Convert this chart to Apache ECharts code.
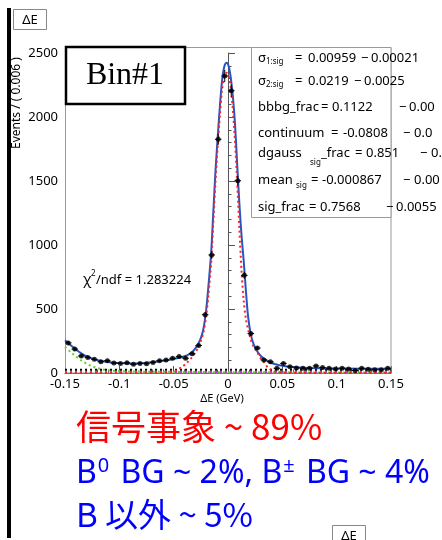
<!DOCTYPE html>
<html><head><meta charset="utf-8">
<script src="https://cdn.jsdelivr.net/npm/echarts@6/dist/echarts.min.js"></script>
<style>html,body{margin:0;padding:0;background:#fff}#c{width:442px;height:540px}</style>
</head><body><div id="c"></div><script>
// ---- data ----
const binCenters = [-0.147,-0.141,-0.135,-0.129,-0.123,-0.117,-0.111,-0.105,-0.099,-0.093,
  -0.087,-0.081,-0.075,-0.069,-0.063,-0.057,-0.051,-0.045,-0.039,-0.033,
  -0.027,-0.021,-0.015,-0.009,-0.003,0.003,0.009,0.015,0.021,0.027,
  0.033,0.039,0.045,0.051,0.057,0.063,0.069,0.075,0.081,0.087,
  0.093,0.099,0.105,0.111,0.117,0.123,0.129,0.135,0.141,0.147];
const counts = [235,187,133,122,107,88,96,78,75,80,
  68,75,72,83,96,101,115,128,115,150,
  215,455,922,1826,2320,2205,1502,763,308,195,
  102,88,37,75,49,40,37,37,55,43,
  37,31,37,31,20,37,30,25,25,37];
const fitTotal = [[-0.150,255],[-0.145,218],[-0.140,183],[-0.135,153],[-0.130,129],[-0.125,112],[-0.120,100],[-0.115,92],[-0.110,86],[-0.105,81],[-0.100,78],[-0.095,76],[-0.090,75],[-0.085,75],[-0.080,77],[-0.075,80],[-0.070,84],[-0.065,89],[-0.060,95],[-0.055,102],[-0.050,110],[-0.045,119],[-0.040,131],[-0.036,146],[-0.032,172],[-0.028,218],[-0.025,272],[-0.0225,350],[-0.020,500],[-0.018,680],[-0.0155,940],[-0.0135,1260],[-0.0115,1580],[-0.0095,1840],[-0.0075,2080],[-0.0055,2280],[-0.0035,2390],[-0.0013,2424],[0.0005,2400],[0.0025,2310],[0.0045,2160],[0.0065,1940],[0.0085,1620],[0.0105,1320],[0.0125,1070],[0.0145,870],[0.0165,640],[0.0185,440],[0.021,300],[0.024,215],[0.027,168],[0.030,135],[0.034,106],[0.038,86],[0.043,70],[0.050,57],[0.060,47],[0.070,41],[0.085,37],[0.100,35],[0.120,34],[0.150,33]];
const fitSignal = [[-0.150,0],[-0.080,1],[-0.060,4],[-0.050,12],[-0.047,23],[-0.042,50],[-0.038,78],[-0.034,115],[-0.031,150],[-0.028,190],[-0.025,250],[-0.0225,320],[-0.020,450],[-0.018,610],[-0.0155,860],[-0.0135,1180],[-0.0115,1500],[-0.0095,1770],[-0.0075,2010],[-0.0055,2210],[-0.0035,2315],[-0.0013,2345],[0.0005,2320],[0.0025,2230],[0.0045,2050],[0.0065,1800],[0.0085,1480],[0.0105,1120],[0.0125,790],[0.0145,560],[0.0165,420],[0.0185,340],[0.021,260],[0.024,200],[0.027,160],[0.030,115],[0.033,85],[0.037,40],[0.042,15],[0.050,3],[0.060,1],[0.150,0]];
const fitBBbar = [[-0.150,205],[-0.145,165],[-0.140,130],[-0.135,98],[-0.130,72],[-0.125,52],[-0.120,38],[-0.115,28],[-0.110,21],[-0.100,15],[-0.090,12],[-0.070,10],[-0.040,8],[0.000,6],[0.050,5],[0.100,4],[0.150,3]];
const fitContinuum = [[-0.150,25],[0.150,25]];
const fitOther = [[-0.150,7],[0.150,7]];
const xTicks = [-0.15,-0.1,-0.05,0,0.05,0.1,0.15];
const yTicks = [0,500,1000,1500,2000,2500];

const chart = echarts.init(document.getElementById('c'), null, {renderer:'canvas'});
const F = '"Noto Sans", "DejaVu Sans", sans-serif';
const CJK = '"Noto Sans CJK JP", "Noto Sans", sans-serif';

function txt(x, y, s, opt) {
  return Object.assign({type:'text', x:x, y:y, z:100,
    style:Object.assign({text:s, font:'13px '+F, fill:'#000', textVerticalAlign:'middle', textAlign:'left'}, opt||{})});
}
const sub = {fontSize:8, fontFamily:F, verticalAlign:'bottom', padding:[8,0,0,0]};
const statRows = [
  {y:58, parts:[[258,'σ{s|1:sig}'],[295,'='],[308,'0.00959'],[361,'−'],[371,'0.00021']]},
  {y:81, parts:[[258,'σ{s|2:sig}'],[295,'='],[308,'0.0219'],[354,'−'],[364,'0.0025']]},
  {y:107, parts:[[258,'bbbg_frac'],[321,'='],[332,'0.1122'],[399,'−'],[409,'0.00']]},
  {y:133, parts:[[258,'continuum'],[331,'='],[343,'-0.0808'],[403,'−'],[414,'0.0']]},
  {y:153, parts:[[258,'dgauss'],[321,'_frac'],[355,'='],[366,'0.851'],[420,'−'],[431,'0.0']]},
  {y:180, parts:[[258,'mean'],[311,'='],[322,'-0.000867'],[403,'−'],[414,'0.00']]},
  {y:207, parts:[[258,'sig_frac'],[309,'='],[320,'0.7568'],[386,'−'],[396,'0.0055']]}
];
const graphics = [
  {type:'rect', z:1, shape:{x:65.5,y:47.5,width:325.5,height:325.5}, style:{fill:'none', stroke:'#999', lineWidth:1}},
  {type:'rect', z:100, shape:{x:7,y:8,width:4,height:530}, style:{fill:'#000'}},
  {type:'rect', z:100, shape:{x:13.5,y:9.5,width:33,height:20}, style:{fill:'#fff', stroke:'#888', lineWidth:1}},
  txt(30, 20, 'ΔE', {textAlign:'center', font:'13px '+F}),
  {type:'rect', z:100, shape:{x:332.5,y:525.5,width:33,height:20}, style:{fill:'#fff', stroke:'#888', lineWidth:1}},
  txt(349, 536, 'ΔE', {textAlign:'center', font:'13px '+F}),
  {type:'text', z:100, x:17, y:103, rotation:Math.PI/2,
    style:{text:'Events / ( 0.006 )', font:'12px '+F, fill:'#000', textAlign:'center', textVerticalAlign:'middle'}},
  {type:'rect', z:100, shape:{x:66,y:47,width:119,height:57}, style:{fill:'#fff', stroke:'#000', lineWidth:2.5}},
  txt(125, 76, 'Bin#1', {textAlign:'center', font:'32px "Liberation Serif", "DejaVu Serif", serif'}),
  {type:'rect', z:99, shape:{x:251.5,y:47.5,width:139.5,height:170}, style:{fill:'#fff', stroke:'#999', lineWidth:1}},
  txt(310, 163, 'sig', {font:'8px '+F}),
  txt(296, 186, 'sig', {font:'8px '+F}),
  txt(83, 280, 'χ', {font:'14px '+F}),
  txt(91, 274, '2', {font:'8px '+F}),
  txt(96, 280, '/ndf = 1.283224', {font:'13px '+F}),
  txt(222, 399, 'ΔE (GeV)', {textAlign:'center', font:'11px '+F}),
  txt(76, 427, '信号事象 ~ 89%', {fill:'#ff0000', font:'35px '+CJK}),
  {type:'text', z:100, x:76, y:474, style:{
    text:'B{p|0} BG ~ 2%, B{p|±} BG ~ 4%', fill:'#0000ff', font:'32px '+F, textVerticalAlign:'middle',
    rich:{p:{fontSize:20, fontFamily:F, fill:'#0000ff', verticalAlign:'top', padding:[0,3,16,1]}}}},
  txt(76, 514, 'B 以外 ~ 5%', {fill:'#0000ff', font:'33px '+CJK})
];
statRows.forEach(r => r.parts.forEach(p => {
  graphics.push({type:'text', z:101, x:p[0], y:r.y, style:{text:p[1], font:'13px '+F, fill:'#000',
    textVerticalAlign:'middle', rich:{s:Object.assign({}, sub)}}});
}));

const dotted = (c) => ({color:c, width:2, type:[2,3]});
chart.setOption({
  animation:false,
  grid:{left:65, right:51, top:53, bottom:167, containLabel:false},
  xAxis:{type:'value', min:-0.15, max:0.15, interval:0.05,
    axisLine:{onZero:false, lineStyle:{color:'#555', width:1}},
    axisTick:{inside:true, length:7, lineStyle:{color:'#555'}},
    minorTick:{show:true, splitNumber:5, length:3.5, lineStyle:{color:'#555'}},
    splitLine:{show:false},
    axisLabel:{fontSize:13, fontFamily:F, color:'#000', margin:5,
      formatter:v => { const r = Math.round(v*100)/100; return xTicks.indexOf(r) >= 0 ? String(r) : ''; }}},
  yAxis:{type:'value', min:0, max:2500, interval:500,
    axisLine:{show:true, lineStyle:{color:'#555', width:1}},
    axisTick:{inside:true, length:7, lineStyle:{color:'#555'}},
    minorTick:{show:true, splitNumber:5, length:3.5, lineStyle:{color:'#555'}},
    splitLine:{show:false},
    axisLabel:{fontSize:13, fontFamily:F, color:'#000', margin:7,
      formatter:v => yTicks.indexOf(v) >= 0 ? String(v) : ''}},
  graphic:graphics,
  series:[
    {type:'line', data:fitOther, showSymbol:false, lineStyle:dotted('#cc33cc'), z:3, silent:true},
    {type:'line', data:fitContinuum, showSymbol:false, lineStyle:dotted('#000'), z:3, silent:true},
    {type:'line', data:fitBBbar, showSymbol:false, smooth:0.3, lineStyle:dotted('#66cc33'), z:3, silent:true},
    {type:'line', data:fitTotal, showSymbol:false, smooth:0.3, lineStyle:{color:'#2a55c0', width:2}, z:4, silent:true},
    {type:'line', data:fitSignal, showSymbol:false, smooth:0.3, lineStyle:dotted('#ff2020'), z:5, silent:true},
    {type:'custom', z:6, silent:true,
      data:binCenters.map((x,i)=>[x, counts[i], Math.sqrt(counts[i])]),
      renderItem:(params, api) => {
        const x = api.value(0), y = api.value(1), e = api.value(2);
        const l = api.coord([x-0.003, y]), r = api.coord([x+0.003, y]);
        const t = api.coord([x, y+e]), b = api.coord([x, Math.max(0, y-e)]);
        return {type:'group', children:[
          {type:'line', shape:{x1:l[0], y1:l[1], x2:r[0], y2:r[1]}, style:{stroke:'#000', lineWidth:1}},
          {type:'line', shape:{x1:t[0], y1:t[1], x2:b[0], y2:b[1]}, style:{stroke:'#000', lineWidth:1}}
        ]};
      }},
    {type:'scatter', data:binCenters.map((x,i)=>[x, counts[i]]), symbol:'circle', symbolSize:5,
      itemStyle:{color:'#000'}, z:7, silent:true}
  ]
});
</script></body></html>
